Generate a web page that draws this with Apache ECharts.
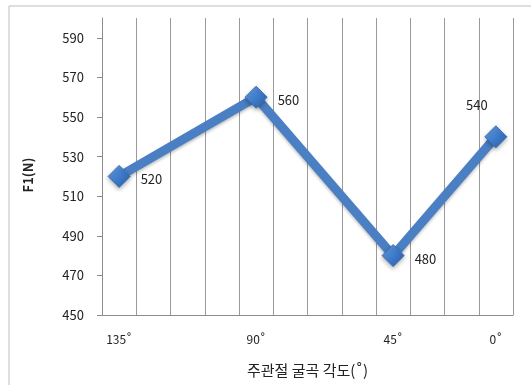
<!DOCTYPE html>
<html>
<head>
<meta charset="utf-8">
<script src="https://cdn.jsdelivr.net/npm/echarts@6/dist/echarts.min.js"></script>
<style>
  html, body { margin: 0; padding: 0; background: #fff; }
  #chart { width: 531px; height: 385px; }
</style>
</head>
<body>
<div id="chart"></div>
<script>
// 12 slots on the x axis, only four of them carry a label and a value
var categories = ["135˚", "", "", "", "90˚", "", "", "", "45˚", "", "", "0˚"];
var forceValues = [520, null, null, null, 560, null, null, null, 480, null, null, 540];
var yTicks = [450, 470, 490, 510, 530, 550, 570, 590];

var font = "'Noto Sans CJK KR', 'DejaVu Sans', sans-serif";

var myChart = echarts.init(document.getElementById("chart"));

var option = {
  backgroundColor: "#fff",
  textStyle: { fontFamily: font },
  graphic: [
    {
      // chart frame, open on the right and bottom like the source image
      type: "rect",
      shape: { x: 9, y: 6, width: 600, height: 500 },
      style: { fill: "none", stroke: "#bdbdbd", lineWidth: 1 },
      silent: true
    },
    {
      type: "text",
      x: 28,
      y: 175,
      rotation: Math.PI / 2,
      style: {
        text: "F1(N)",
        fontSize: 13,
        fontWeight: "bold",
        fill: "#222",
        fontFamily: font,
        align: "center",
        verticalAlign: "middle"
      },
      silent: true
    }
  ],
  grid: { left: 102, right: 18, top: 18, bottom: 70 },
  xAxis: {
    type: "category",
    data: categories,
    boundaryGap: true,
    name: "주관절 굴곡 각도(˚)",
    nameLocation: "middle",
    nameGap: 48,
    nameTextStyle: { fontSize: 15, color: "#222", fontFamily: font },
    axisLine: { show: true, lineStyle: { color: "#8c8c8c", width: 1 } },
    axisTick: { show: false },
    axisLabel: { interval: 0, color: "#222", fontSize: 12, margin: 18, fontFamily: font },
    splitLine: { show: true, interval: 0, lineStyle: { color: "#9a9a9a", width: 1 } }
  },
  yAxis: {
    type: "value",
    min: 450,
    max: 600,
    interval: 20,
    axisLine: { show: true, lineStyle: { color: "#8c8c8c", width: 1 } },
    axisTick: { show: true, inside: false, length: 5, customValues: yTicks, lineStyle: { color: "#8c8c8c" } },
    axisLabel: { color: "#222", fontSize: 13, margin: 18, customValues: yTicks, fontFamily: font },
    splitLine: { show: false }
  },
  series: [
    {
      type: "line",
      data: forceValues,
      connectNulls: true,
      symbol: "diamond",
      symbolSize: 22,
      lineStyle: {
        color: "#4a7fc4",
        width: 9,
        shadowColor: "rgba(0,0,0,0.25)",
        shadowBlur: 3,
        shadowOffsetY: 2
      },
      itemStyle: {
        color: new echarts.graphic.LinearGradient(0, 0, 1, 1, [
          { offset: 0, color: "#6fa2e6" },
          { offset: 0.5, color: "#3f7ccc" },
          { offset: 1, color: "#2a5fa8" }
        ]),
        borderColor: "#3a6fb5",
        borderWidth: 1,
        shadowColor: "rgba(0,0,0,0.3)",
        shadowBlur: 4,
        shadowOffsetY: 2
      },
      label: {
        show: true,
        position: "right",
        distance: 10,
        offset: [0, 3],
        color: "#222",
        fontSize: 13,
        fontFamily: font
      },
      emphasis: { disabled: true }
    }
  ]
};

// the last point has its label above and to the left
option.series[0].data = forceValues.map(function (v, i) {
  if (i === forceValues.length - 1 && v != null) {
    return { value: v, label: { position: "top", offset: [-19, -4] } };
  }
  return v;
});

myChart.setOption(option);
</script>
</body>
</html>
